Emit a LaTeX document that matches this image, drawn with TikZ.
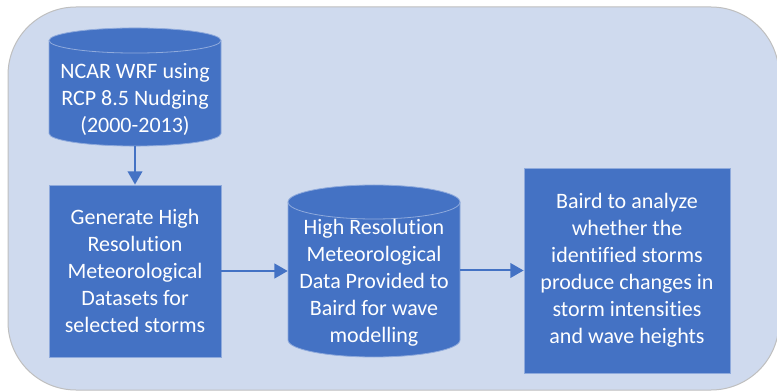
\documentclass[tikz,border=0pt]{standalone}
\usepackage{fontspec}
\setmainfont[Ligatures = NoCommon]{Carlito}
\usetikzlibrary{arrows.meta}
\definecolor{panel}{RGB}{207,218,238}
\definecolor{panelline}{RGB}{191,191,191}
\definecolor{boxblue}{RGB}{68,114,196}
\definecolor{boxline}{RGB}{143,170,220}
\tikzset{
	stage/.style = {rectangle, fill = boxblue, draw = boxline, line width = 0.6pt, text = white, align = center, inner sep = 0pt, font = \fontsize{16.5}{20.25}\selectfont},
	drumtext/.style = {rectangle, text = white, align = center, inner sep = 0pt, font = \fontsize{16.5}{20.25}\selectfont},
	drum/.style = {fill = boxblue, draw = boxline, line width = 0.6pt},
	flow/.style = {draw = boxblue, line width = 1.5pt, -{Triangle[width = 11pt, length = 10pt]}}
}
\begin{document}
\begin{tikzpicture}[x=0.75pt, y=-0.75pt]
	\useasboundingbox (0,0) rectangle (777,391);
	\draw[panelline, fill = panel, line width = 0.75pt, rounded corners = 51pt] (8,7) rectangle (779,390);
	
	\draw[drum] (49,40.5) -- (49,133.5) arc[start angle = 180, end angle = 360, x radius = 64.5pt, y radius = 9.4pt]
			-- (221,40.5) arc[start angle = 0, end angle = 180, x radius = 64.5pt, y radius = 9.4pt] -- cycle;
	\draw[boxline, line width = 0.6pt] (49,40.5) arc[start angle = 180, end angle = 360, x radius = 64.5pt, y radius = 9.4pt];
	
	\draw[drum] (288,202) -- (288,340) arc[start angle = 180, end angle = 360, x radius = 64.5pt, y radius = 12.75pt]
			-- (460,202) arc[start angle = 0, end angle = 180, x radius = 64.5pt, y radius = 12.75pt] -- cycle;
	\draw[boxline, line width = 0.6pt] (288,202) arc[start angle = 180, end angle = 360, x radius = 64.5pt, y radius = 12.75pt];
	
	\node[drumtext, minimum width = 129pt, minimum height = 69.75pt] (wrf) at (135,99.5)
			{NCAR WRF using\\RCP 8.5 Nudging\\(2000-2013)};
	\node[stage, minimum width = 129pt, minimum height = 129pt] (gen) at (135,271)
			{Generate High\\Resolution\\Meteorological\\Datasets for\\selected storms};
	\node[drumtext, minimum width = 129pt, minimum height = 111pt] (hrdata) at (374,283)
			{High Resolution\\Meteorological\\Data Provided to\\Baird for wave\\modelling};
	\node[stage, minimum width = 154.5pt, minimum height = 153.75pt] (analyze) at (627,270.5)
			{Baird to analyze\\whether the\\identified storms\\produce changes in\\storm intensities\\and wave heights};
	
	\draw[flow] (wrf.south) -- (gen.north);
	\draw[flow] (gen.east) -- (gen.east -| hrdata.west);
	\draw[flow] (hrdata.east |- analyze.west) -- (analyze.west);
\end{tikzpicture}
\end{document}
